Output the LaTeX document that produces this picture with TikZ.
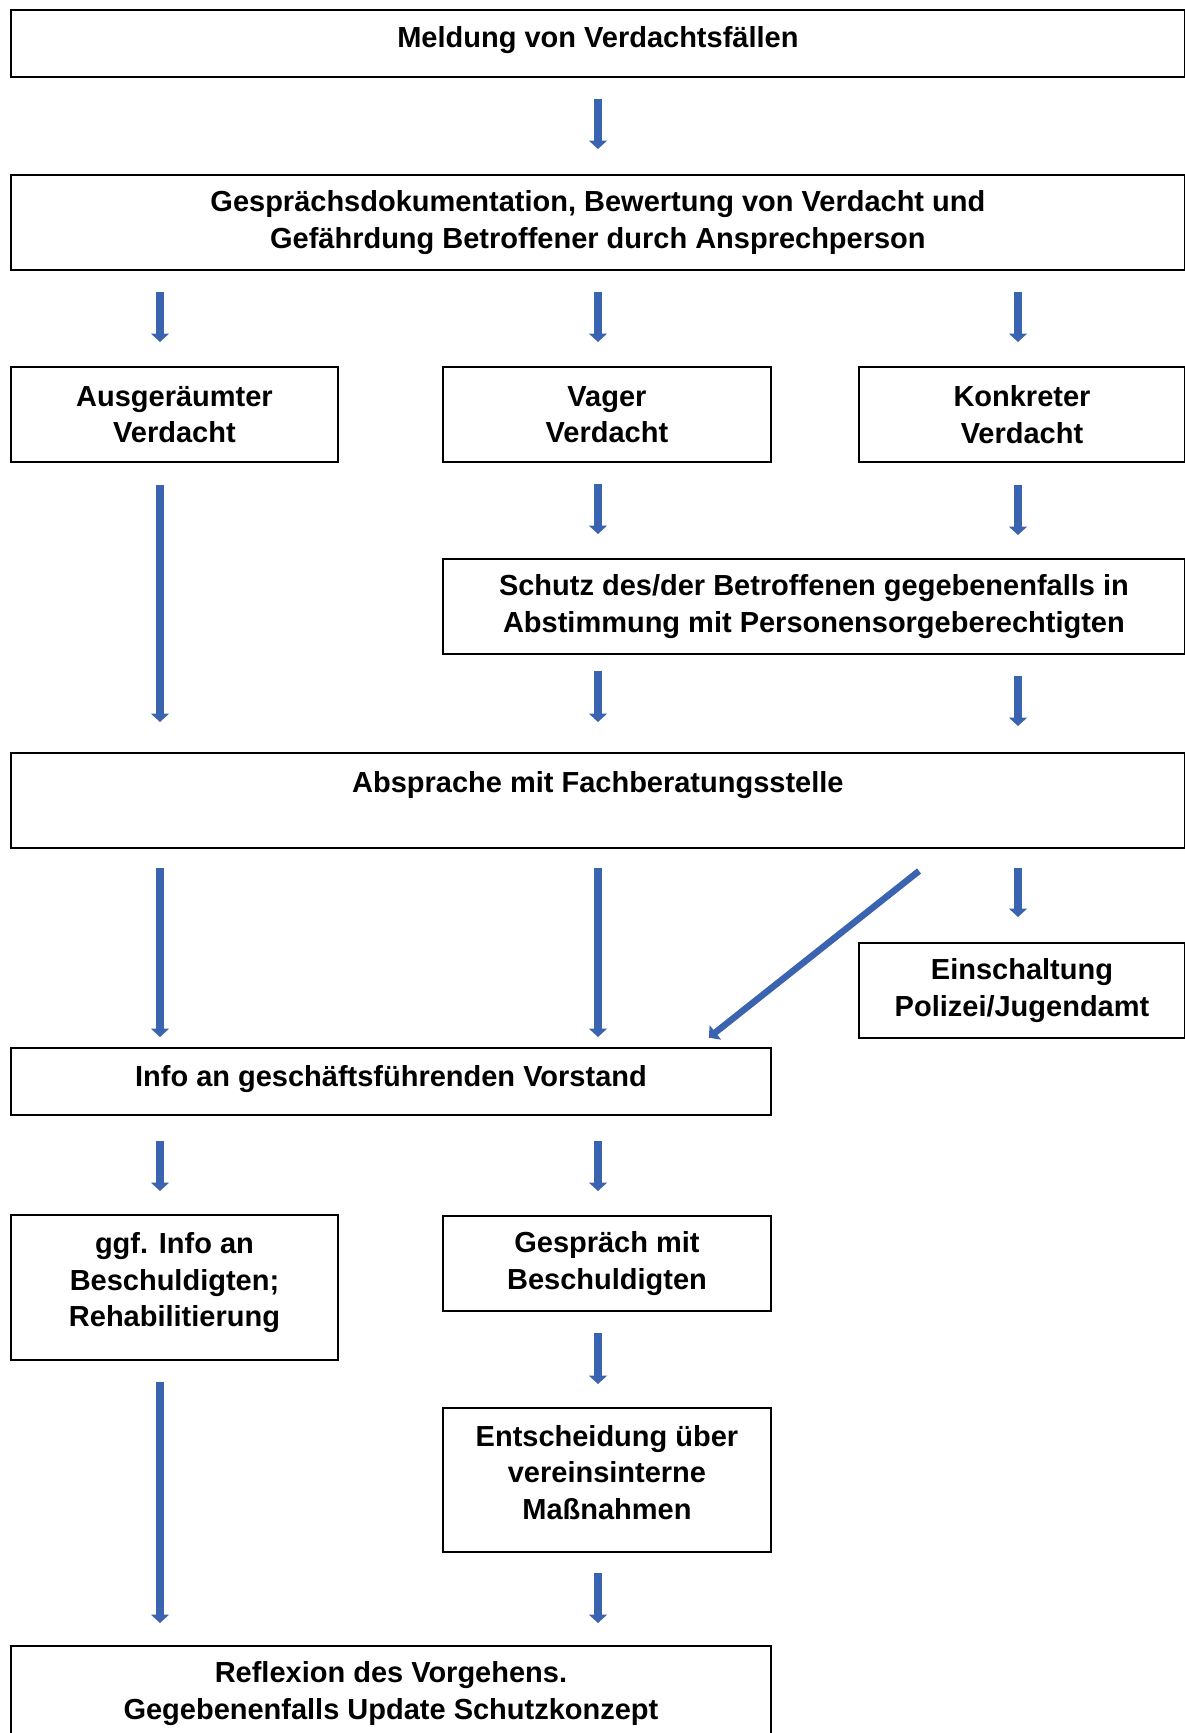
\documentclass[tikz,border=0pt]{standalone}
\usepackage{fontspec}
\setmainfont{Liberation Sans}
\usepackage{tikz}
\usetikzlibrary{arrows.meta}

\definecolor{arrowblue}{RGB}{59,100,176}

\begin{document}
\begin{tikzpicture}[x=0.02cm, y=-0.02cm,
    box/.style={draw, line width=0.04cm, inner sep=0pt, align=center, anchor=north west,
        font=\fontsize{16.5}{20.8}\selectfont\bfseries},
    flow/.style={arrowblue, line width=0.15cm, -{Triangle[width=0.36cm, length=0.17cm]}}]

    % Page frame
    \useasboundingbox (0,0) rectangle (1185,1733);

    % Columns of the arrows
    \coordinate (colA) at (160,0);
    \coordinate (colB) at (598,0);
    \coordinate (colC) at (1018,0);
    \coordinate (diagS) at (919,871);
    \coordinate (diagE) at (697,0);

    % Boxes
    \node[box, minimum width=23.48cm, minimum height=1.34cm] (meld) at (10,9)
        {Meldung von Verdachtsfällen\rule[-7.5pt]{0pt}{0pt}};
    \node[box, minimum width=23.48cm, minimum height=1.90cm] (gesp) at (10,174)
        {Gesprächsdokumentation, Bewertung von Verdacht und\\Gefährdung Betroffener durch Ansprechperson};
    \node[box, minimum width=6.54cm, minimum height=1.90cm] (ausg) at (10,366) {Ausgeräumter\\Verdacht};
    \node[box, minimum width=6.56cm, minimum height=1.90cm] (vage) at (442,366) {Vager\\Verdacht};
    \node[box, minimum width=6.52cm, minimum height=1.90cm] (konk) at (858,366) {Konkreter\\Verdacht};
    \node[box, minimum width=14.84cm, minimum height=1.90cm] (schutz) at (442,558)
        {Schutz des/der Betroffenen gegebenenfalls in\\Abstimmung mit Personensorgeberechtigten};
    \node[box, minimum width=23.48cm, minimum height=1.90cm] (absp) at (10,752) {Absprache mit Fachberatungsstelle\\~};
    \node[box, minimum width=6.52cm, minimum height=1.90cm] (polizei) at (858,942) {Einschaltung\\Polizei/Jugendamt};
    \node[box, minimum width=15.2cm, minimum height=1.34cm] (info) at (10,1047)
        {Info an geschäftsführenden Vorstand\rule[-6pt]{0pt}{0pt}};
    \node[box, minimum width=6.54cm, minimum height=2.90cm] (ggf) at (10,1214)
        {ggf. Info an\\Beschuldigten;\\Rehabilitierung\rule[-9pt]{0pt}{0pt}};
    \node[box, minimum width=6.56cm, minimum height=1.90cm] (gespr) at (442,1215) {Gespräch mit\\Beschuldigten};
    \node[box, minimum width=6.56cm, minimum height=2.88cm] (entsch) at (442,1407)
        {Entscheidung über\\vereinsinterne\\Maßnahmen\rule[-9pt]{0pt}{0pt}};
    \node[box, minimum width=15.2cm, minimum height=1.90cm] (refl) at (10,1645)
        {Reflexion des Vorgehens.\\Gegebenenfalls Update Schutzkonzept};

    % Arrows
    \draw[flow, shorten <=0.42cm, shorten >=0.5cm] (meld.south -| colB) -- (gesp.north -| colB);

    \draw[flow, shorten <=0.42cm, shorten >=0.48cm] (gesp.south -| colA) -- (ausg.north -| colA);
    \draw[flow, shorten <=0.42cm, shorten >=0.48cm] (gesp.south -| colB) -- (vage.north -| colB);
    \draw[flow, shorten <=0.42cm, shorten >=0.48cm] (gesp.south -| colC) -- (konk.north -| colC);

    \draw[flow, shorten <=0.44cm, shorten >=0.6cm] (ausg.south -| colA) -- (absp.north -| colA);
    \draw[flow, shorten <=0.42cm, shorten >=0.48cm] (vage.south -| colB) -- (schutz.north -| colB);
    \draw[flow, shorten <=0.44cm, shorten >=0.46cm] (konk.south -| colC) -- (schutz.north -| colC);

    \draw[flow, shorten <=0.32cm, shorten >=0.6cm] (schutz.south -| colB) -- (absp.north -| colB);
    \draw[flow, shorten <=0.42cm, shorten >=0.52cm] (schutz.south -| colC) -- (absp.north -| colC);

    \draw[flow, shorten <=0.38cm, shorten >=0.2cm] (absp.south -| colA) -- (info.north -| colA);
    \draw[flow, shorten <=0.38cm, shorten >=0.2cm] (absp.south -| colB) -- (info.north -| colB);
    \draw[flow, line width=0.13cm, shorten >=0.3cm] (diagS) -- (info.north -| diagE);
    \draw[flow, shorten <=0.38cm, shorten >=0.5cm] (absp.south -| colC) -- (polizei.north -| colC);

    \draw[flow, shorten <=0.5cm, shorten >=0.46cm] (info.south -| colA) -- (ggf.north -| colA);
    \draw[flow, shorten <=0.5cm, shorten >=0.48cm] (info.south -| colB) -- (gespr.north -| colB);

    \draw[flow, shorten <=0.42cm, shorten >=0.46cm] (gespr.south -| colB) -- (entsch.north -| colB);
    \draw[flow, shorten <=0.42cm, shorten >=0.44cm] (ggf.south -| colA) -- (refl.north -| colA);
    \draw[flow, shorten <=0.4cm, shorten >=0.44cm] (entsch.south -| colB) -- (refl.north -| colB);

\end{tikzpicture}
\end{document}
